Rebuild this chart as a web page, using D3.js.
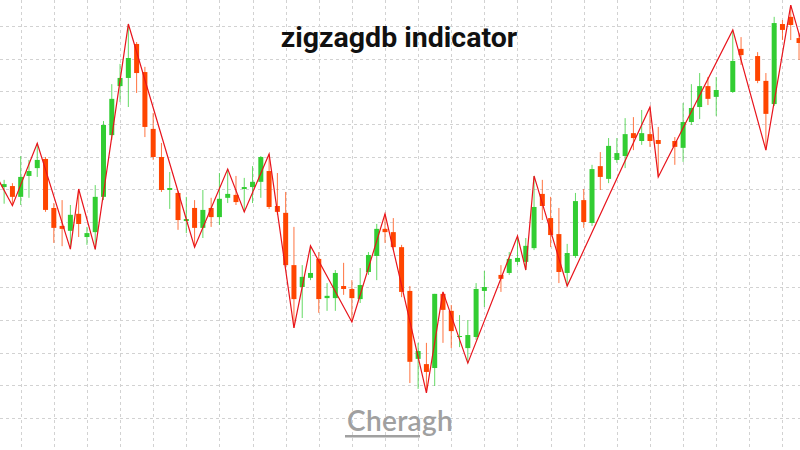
<!DOCTYPE html>
<html><head><meta charset="utf-8">
<script src="https://cdn.jsdelivr.net/npm/d3@7/dist/d3.min.js"></script>
<style>
body { margin: 0; background: #fff; }
</style>
</head><body><svg width="800" height="450"></svg>
<script>

// candles, one per bar; null = no bar drawn
var open = [150.7,151.0,147.7,154.1,156.5,159.3,144.3,138.8,137.3,142.5,135.4,136.9,147.7,166.6,181.6,184.1,194.5,185.9,168.5,159.9,
  149.8,148.9,140.3,144.3,138.2,144.3,141.5,147.4,148.3,150.1,150.7,152.3,155.6,144.9,142.8,126.8,120.1,122.9,128.7,116.7,
  116.7,120.4,119.5,116.4,124.7,129.6,137.9,136.9,132.3,118.9,98.1,96.5,95.3,118.0,112.8,104.8,101.4,104.8,118.9,null,
  123.8,124.4,127.8,127.8,132.0,148.6,141.2,136.3,124.4,129.6,146.7,139.7,157.1,153.2,159.0,160.2,167.2,164.8,166.9,165.1,
  null,164.8,162.7,170.6,175.2,181.6,178.3,null,179.8,193.0,null,190.8,183.2,176.1,200.6,202.8,196.3];
var high = [152.9,151.9,160.2,159.0,164.1,159.9,145.8,146.7,145.2,150.1,138.5,151.3,170.9,182.2,188.4,200.6,195.1,187.5,173.4,164.2,
  155.3,149.5,147.7,146.7,149.8,147.4,155.0,156.2,154.1,153.5,157.1,160.2,160.8,155.0,149.2,138.5,126.8,132.7,130.8,121.3,
  125.3,127.5,122.2,125.9,130.8,139.4,142.5,141.2,133.0,120.4,103.0,103.0,118.0,118.6,114.6,111.5,110.0,121.3,125.0,null,
  126.8,130.8,135.7,135.1,154.1,152.9,147.7,144.3,133.3,148.9,150.1,157.5,161.4,165.7,165.7,171.8,172.1,174.3,175.2,169.1,
  null,166.0,176.4,182.2,185.6,184.4,184.4,null,198.8,196.6,null,192.0,185.6,202.8,201.8,206.4,197.9];
var low = [145.6,145.0,145.2,147.4,153.8,143.1,133.6,132.6,131.7,135.4,133.0,131.6,146.7,165.1,176.7,175.2,179.5,166.0,159.0,149.2,
  144.0,137.6,136.6,132.3,135.1,138.5,139.1,145.8,145.2,143.1,145.8,147.4,144.0,142.2,125.9,107.6,110.6,122.2,112.2,112.8,
  112.8,117.7,109.4,115.2,123.8,122.2,133.6,131.4,117.0,90.7,88.9,87.7,89.8,103.0,101.4,101.7,96.8,103.9,114.0,null,
  118.6,123.8,126.8,125.3,131.4,140.6,132.3,121.3,120.4,129.0,138.2,138.8,149.8,151.9,158.1,156.5,162.0,163.6,163.0,153.8,
  null,157.5,158.4,169.7,171.5,175.8,172.5,null,179.5,188.1,null,182.5,162.0,175.5,195.7,195.7,189.6];
var close = [151.6,147.7,153.8,155.6,159.0,143.7,138.2,137.9,142.2,139.4,136.6,147.7,169.7,177.7,184.1,190.2,185.6,169.1,159.9,149.8,
  150.4,140.6,140.9,138.2,143.7,141.5,147.1,148.6,146.1,150.7,152.3,159.9,144.6,143.1,126.8,116.4,123.2,124.4,116.4,117.4,
  124.4,119.5,116.7,120.7,129.9,137.9,136.9,132.3,118.6,97.2,100.5,94.1,118.0,113.1,106.6,105.1,105.4,119.5,120.1,null,
  122.6,128.7,129.0,132.7,144.6,144.9,136.0,124.7,130.5,146.4,140.0,156.2,153.8,163.3,161.1,166.9,165.7,167.2,164.8,163.9,
  null,163.0,170.6,174.9,181.6,177.7,180.4,null,189.3,191.1,null,183.2,173.1,200.9,198.8,200.3,194.8];

// zigzag pivots (bar index, price); first and last lie off screen
var zigIndex = [-1,1,4,8,9,11,15,23,27,29,32,35,37,42,46,51,53,56,62,63,64,68,78,79,88,92,95,97];
var zigPrice = [154.4,145.0,164.1,131.7,150.1,131.6,200.6,132.3,156.2,143.1,160.8,107.6,132.7,109.4,142.5,87.7,118.6,96.8,
  135.7,125.3,154.1,120.4,175.2,153.8,198.8,162.0,206.4,188.7];

var priceTicks = d3.range(80, 201, 10);
var title = "zigzagdb indicator";
var watermark = "Cheragh";

var svg = d3.select("svg"),
    width = 800,
    height = 450,
    step = 8.28,
    bodyWidth = 5;

var x = d3.scaleLinear().domain([0, open.length - 1]).range([4.14, 4.14 + step * (open.length - 1)]);
var y = d3.scaleLinear().domain([80, 200]).range([418, 26]);

var bars = open.map(function(o, i) {
  return {i: i, open: o, high: high[i], low: low[i], close: close[i]};
}).filter(function(d) { return d.open != null; });

var up = "#32cd32", down = "#ff4500";

// grid
var grid = svg.append("g")
    .attr("stroke", "#d2d2d2")
    .attr("stroke-width", 1)
    .attr("stroke-dasharray", "3,3");

grid.selectAll(".h").data(priceTicks).enter().append("line")
    .attr("x1", 0).attr("x2", width)
    .attr("y1", function(d) { return Math.round(y(d)) + 0.5; })
    .attr("y2", function(d) { return Math.round(y(d)) + 0.5; });

grid.selectAll(".v").data(d3.range(2, open.length, 4)).enter().append("line")
    .attr("y1", 0).attr("y2", height)
    .attr("x1", function(d) { return Math.round(x(d)) + 0.5; })
    .attr("x2", function(d) { return Math.round(x(d)) + 0.5; });

// watermark
svg.append("text")
    .attr("x", 400)
    .attr("y", 431)
    .attr("text-anchor", "middle")
    .attr("font-family", "Lato, 'Open Sans', sans-serif")
    .attr("font-size", 28)
    .attr("font-weight", 600)
    .attr("letter-spacing", 0.3)
    .attr("fill", "#a0a0a0")
    .text(watermark);

svg.append("rect")
    .attr("x", 345).attr("y", 435)
    .attr("width", 75).attr("height", 2.5)
    .attr("fill", "#a0a0a0");

// candles
var candle = svg.append("g").selectAll("g").data(bars).enter().append("g");

candle.append("line")
    .attr("x1", function(d) { return x(d.i); })
    .attr("x2", function(d) { return x(d.i); })
    .attr("y1", function(d) { return y(d.high); })
    .attr("y2", function(d) { return y(d.low); })
    .attr("stroke", function(d) { return d.close >= d.open ? up : down; })
    .attr("stroke-opacity", 0.75)
    .attr("stroke-width", 1);

candle.append("rect")
    .attr("x", function(d) { return x(d.i) - bodyWidth / 2; })
    .attr("width", bodyWidth)
    .attr("y", function(d) { return y(Math.max(d.open, d.close)); })
    .attr("height", function(d) { return Math.max(1, Math.abs(y(d.open) - y(d.close))); })
    .attr("fill", function(d) { return d.close >= d.open ? up : down; });

// zigzag
var zig = zigIndex.map(function(d, k) { return [x(d), y(zigPrice[k])]; });

svg.append("path")
    .attr("d", d3.line()(zig))
    .attr("fill", "none")
    .attr("stroke", "#e8141c")
    .attr("stroke-width", 1.2);

// title
svg.append("text")
    .attr("x", 399)
    .attr("y", 47)
    .attr("text-anchor", "middle")
    .attr("font-family", "Roboto, sans-serif")
    .attr("font-weight", "bold")
    .attr("font-size", 28.5)
    .attr("fill", "#111")
    .text(title);

</script>
</body></html>
